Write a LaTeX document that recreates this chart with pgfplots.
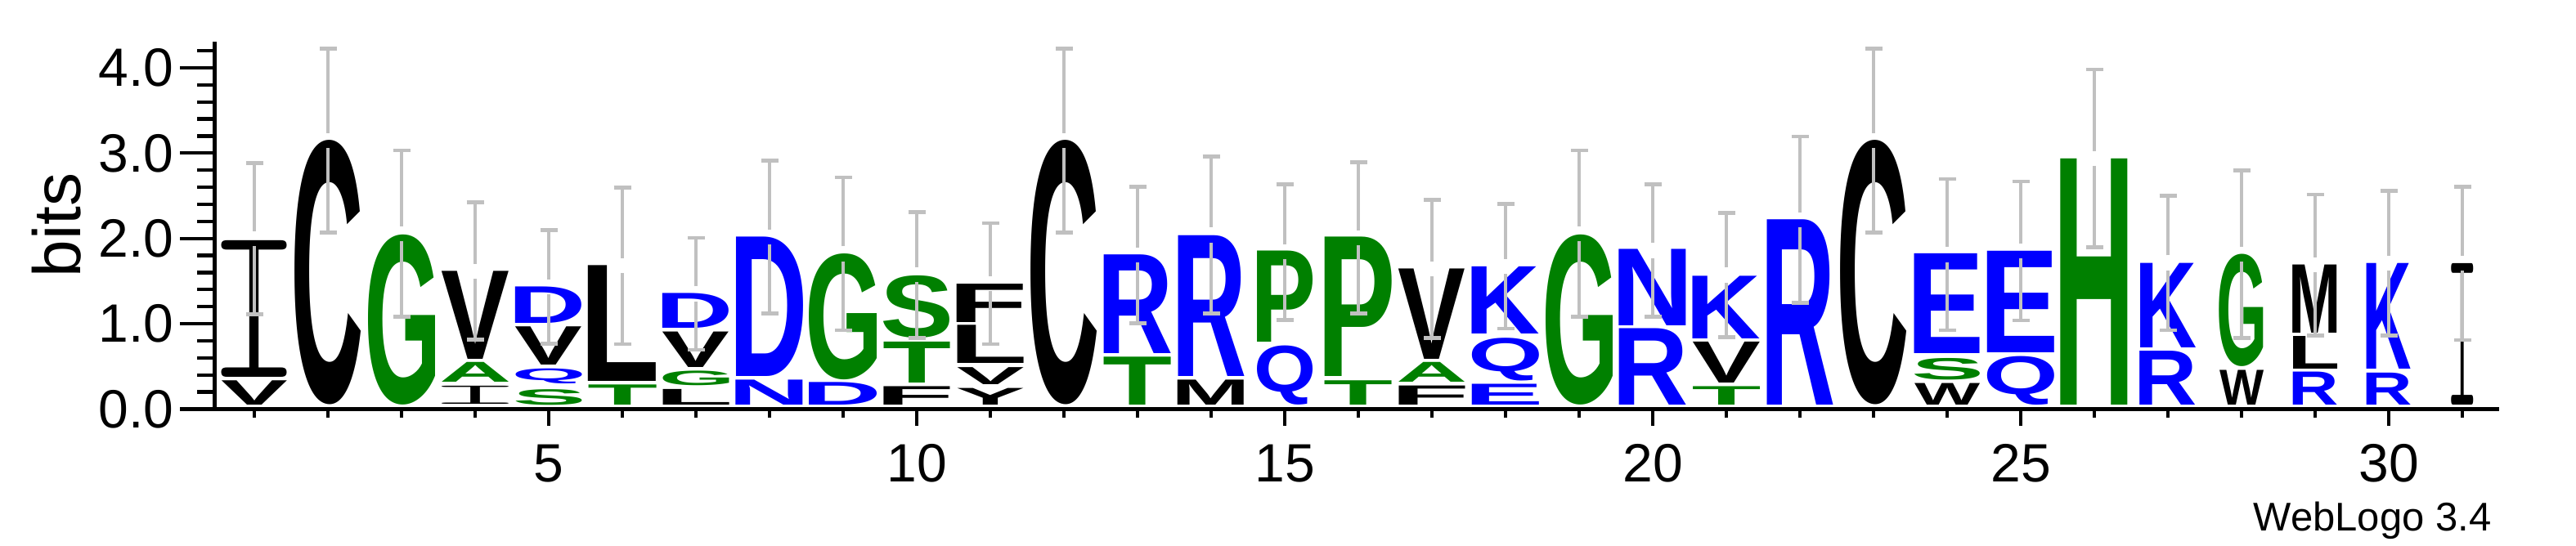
\documentclass[border=0pt]{standalone}
\usepackage{pgfplots}
\pgfplotsset{compat=1.18}
\usepackage{pgfplotstable}
\usepackage{fontspec}
\setmainfont{Liberation Sans}
\newfontfamily\letterfont{Liberation Sans}
\newfontfamily\Ifont{lmmonolt10-regular}[Extension=.otf]
\definecolor{wgreen}{RGB}{0,128,0}
\definecolor{wblue}{RGB}{0,0,255}
\definecolor{ebgray}{RGB}{192,192,192}
% colour of each residue letter
\def\setcol#1#2{\expandafter\def\csname lcol@#1\endcsname{#2}}
\setcol{V}{black}\setcol{I}{black}\setcol{C}{black}\setcol{L}{black}
\setcol{F}{black}\setcol{Y}{black}\setcol{M}{black}\setcol{W}{black}
\setcol{G}{wgreen}\setcol{A}{wgreen}\setcol{S}{wgreen}\setcol{T}{wgreen}
\setcol{P}{wgreen}\setcol{H}{wgreen}
\setcol{Q}{wblue}\setcol{D}{wblue}\setcol{N}{wblue}\setcol{R}{wblue}
\setcol{K}{wblue}\setcol{E}{wblue}
\newdimen\pxu \pxu=0.25pt
\newdimen\yu \yu=26.1pt
\def\Iletter{I}
\newcommand\trimglyph[1]{%
  \hbox{\def\tmp{#1}%
    \ifx\tmp\Iletter\Ifont\else\letterfont\bfseries\fi
    \fontsize{40}{40}\selectfont
    \kern-\XeTeXglyphbounds1 \XeTeXcharglyph`#1\relax
    #1%
    \kern-\XeTeXglyphbounds3 \XeTeXcharglyph`#1\relax}}
\newcommand\logoletter[1]{\expandafter\logoletterx\expandafter{#1}}
\newcommand\logoletterx[1]{{\color{\csname lcol@#1\endcsname}\resizebox*{\lw\pxu}{\lh\yu}{\trimglyph{#1}}}}

\pgfplotstableread{
x y h w l
1 0.049 0.285 80 V
1 0.375 1.601 80 I
2 0.049 3.097 81 C
3 0.049 1.993 82 G
4 0.061 0.212 82 I
4 0.314 0.232 82 A
4 0.587 1.031 82 V
5 0.049 0.183 81 S
5 0.293 0.176 81 Q
5 0.518 0.448 81 V
5 1.007 0.427 81 D
6 0.049 0.236 83 T
6 0.322 1.357 83 L
7 0.049 0.183 81 L
7 0.273 0.171 81 G
7 0.489 0.416 81 V
7 0.945 0.408 81 D
8 0.049 0.293 82 N
8 0.383 1.634 82 D
9 0.049 0.265 83 D
9 0.346 1.476 83 G
10 0.049 0.216 81 F
10 0.302 0.480 81 T
10 0.835 0.730 81 S
11 0.049 0.195 81 Y
11 0.290 0.200 81 V
11 0.533 0.447 81 L
11 1.020 0.450 81 F
12 0.049 3.097 81 C
13 0.049 0.562 82 T
13 0.652 1.157 82 R
14 0.049 0.293 81 M
14 0.383 1.650 81 R
15 0.049 0.693 68 Q
15 0.782 1.068 68 P
16 0.049 0.285 82 T
16 0.383 1.634 82 P
17 0.049 0.224 81 F
17 0.314 0.232 81 A
17 0.587 1.059 81 V
18 0.049 0.244 82 E
18 0.334 0.501 82 Q
18 0.884 0.787 82 K
19 0.049 1.993 82 G
20 0.049 0.896 82 R
20 0.974 0.896 82 N
21 0.049 0.216 82 T
21 0.302 0.480 82 V
21 0.823 0.734 82 K
22 0.049 2.172 81 R
23 0.049 3.097 81 C
24 0.049 0.253 80 W
24 0.346 0.253 80 S
24 0.652 1.170 80 E
25 0.049 0.570 82 Q
25 0.660 1.190 82 E
26 0.049 2.885 82 H
27 0.049 0.632 68 R
27 0.721 0.990 68 K
28 0.049 0.407 54 W
28 0.497 1.316 54 G
29 0.049 0.387 54 R
29 0.469 0.383 54 L
29 0.892 0.799 54 M
30 0.049 0.375 54 R
30 0.469 1.238 54 K
31 0.049 1.658 27 I
}\letters

\pgfplotstableread{
x t e
1 1.995 0.887
2 3.146 1.080
3 2.056 0.976
4 1.616 0.805
5 1.434 0.665
6 1.679 0.917
7 1.350 0.657
8 2.015 0.894
9 1.820 0.897
10 1.573 0.738
11 1.471 0.709
12 3.146 1.080
13 1.807 0.800
14 2.042 0.921
15 1.842 0.795
16 2.007 0.886
17 1.644 0.809
18 1.673 0.728
19 2.056 0.976
20 1.858 0.778
21 1.571 0.727
22 2.219 0.976
23 3.146 1.080
24 1.811 0.886
25 1.854 0.815
26 2.938 1.043
27 1.714 0.789
28 1.818 0.982
29 1.689 0.825
30 1.709 0.846
31 1.709 0.899
}\errs

\pgfplotsset{logoaxis/.style={at={(65.625pt,41.625pt)}, anchor=south west,
  x=22.5pt, y=26.1pt, xmin=0.46, xmax=31.5, ymin=0, ymax=4.31}}

\begin{document}
\begin{tikzpicture}
\path[use as bounding box] (0,0) rectangle (787.5pt,166.75pt);
% y axis with its own tick lengths
\begin{axis}[logoaxis,
  axis y line*=left, hide x axis,
  axis line style={line width=1.125pt, black},
  ytick={0,1,2,3,4}, yticklabels={0.0,1.0,2.0,3.0,4.0},
  minor ytick={0.2,0.4,0.6,0.8,1.2,1.4,1.6,1.8,2.2,2.4,2.6,2.8,3.2,3.4,3.6,3.8,4.2},
  tick align=outside, major tick length=10.5pt, minor tick length=5.25pt,
  tick style={line width=1.075pt, black},
  yticklabel style={font=\fontsize{16.5}{18}\selectfont, inner sep=0pt, xshift=-1.9pt},
  ylabel={bits},
  ylabel style={font=\fontsize{20.5}{22}\selectfont, at={(axis description cs:-0.0693,0.5)}, anchor=center},
]
\end{axis}
% x axis and letters
\begin{axis}[logoaxis,
  axis x line*=bottom, hide y axis, clip=false,
  axis line style={line width=1.125pt, black},
  xtick={5,10,15,20,25,30}, xticklabels={5,10,15,20,25,30},
  minor xtick={1,2,3,4,6,7,8,9,11,12,13,14,16,17,18,19,21,22,23,24,26,27,28,29,31},
  tick align=outside, major tick length=5pt, minor tick length=2.5pt,
  tick style={line width=1.125pt, black},
  xticklabel style={font=\fontsize{16.5}{18}\selectfont, inner sep=0pt, anchor=north, yshift=-5.6pt},
]
\addplot[draw=none, mark=none, point meta=explicit symbolic,
  nodes near coords={\logoletter{\pgfplotspointmeta}},
  every node near coord/.append style={anchor=south, inner sep=0pt, outer sep=0pt},
  visualization depends on={\thisrow{h}\as\lh},
  visualization depends on={\thisrow{w}\as\lw}]
  table[x=x, y=y, meta=l] {\letters};
\node[anchor=base east, inner sep=0pt, font=\fontsize{12.25}{14}\selectfont]
  at (axis description cs:0.9968,-0.3322) {WebLogo 3.4};
\end{axis}
% error bars drawn over the letters
\begin{axis}[logoaxis, hide axis, clip=false]
\addplot[draw=none, mark=none, forget plot,
  error bars/.cd, y dir=plus, y explicit, error mark=-,
  error bar style={draw=ebgray, line width=1.17pt},
  error mark options={rotate=90, draw=ebgray, line width=1.17pt, mark size=2.6pt}]
  table[x=x, y expr=\thisrow{t}+0.088, y error expr=\thisrow{e}-0.088] {\errs};
\addplot[draw=none, mark=none, forget plot,
  error bars/.cd, y dir=minus, y explicit, error mark=-,
  error bar style={draw=ebgray, line width=1.17pt},
  error mark options={rotate=90, draw=ebgray, line width=1.17pt, mark size=2.6pt}]
  table[x=x, y expr=\thisrow{t}-0.088, y error expr=\thisrow{e}-0.088] {\errs};
\end{axis}
\end{tikzpicture}
\end{document}
